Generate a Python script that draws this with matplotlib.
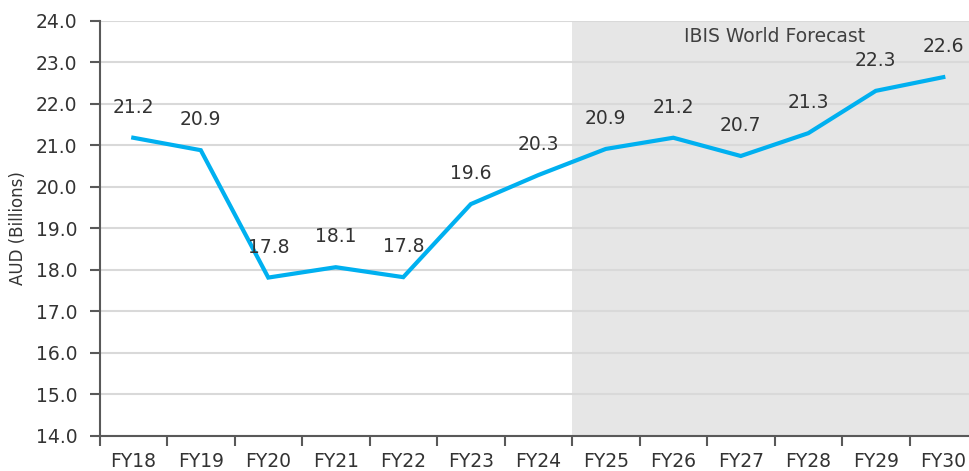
import matplotlib.pyplot as plt
import numpy as np

years = ["FY18", "FY19", "FY20", "FY21", "FY22", "FY23", "FY24",
         "FY25", "FY26", "FY27", "FY28", "FY29", "FY30"]
revenue = [21.18, 20.88, 17.81, 18.06, 17.82, 19.58, 20.28,
           20.91, 21.18, 20.74, 21.29, 22.31, 22.64]
forecast_from = "FY25"
forecast_label = "IBIS World Forecast"

plt.rcParams["font.family"] = ["DejaVu Sans"]
text_col = "#333333"

fig = plt.figure(figsize=(9.69, 4.71), dpi=100)
ax = fig.add_axes([0.1027, 0.075, 0.9056, 0.881])

x = np.arange(len(years))
start = years.index(forecast_from) - 0.5
ax.axvspan(start, len(years) - 0.5, color="#E6E6E6", zorder=0.1, lw=0)
ax.text((start + len(years) - 0.5) / 2, 23.63, forecast_label, ha="center", va="center",
        fontsize=13.5, color="#404040")

ax.plot(x, revenue, color="#00B0F0", lw=3, solid_joinstyle="miter", zorder=3)
for xi, v in zip(x, revenue):
    ax.annotate("%.1f" % v, (xi, v), xytext=(0, 22), textcoords="offset points",
                ha="center", va="center", fontsize=13.5, color=text_col)

ax.set_xlim(-0.5, len(years) - 0.5)
ax.set_ylim(14, 24)
ax.set_yticks(np.arange(14, 24.1, 1))
ax.set_yticklabels(["%.1f" % t for t in np.arange(14, 24.1, 1)])
ax.set_xticks(x)
ax.set_xticklabels(years)
ax.set_xticks(np.arange(-0.5, len(years)), minor=True)
ax.tick_params(axis="x", which="major", length=0, pad=12, labelsize=13.5, colors=text_col)
ax.tick_params(axis="x", which="minor", length=7, width=1.5, color="#595959")
ax.tick_params(axis="y", length=7, width=1.5, color="#595959", pad=9,
               labelsize=13.5, labelcolor=text_col)

ax.set_axisbelow(True)
ax.grid(axis="y", color="#D9D9D9", lw=1.5)
for s in ["top", "right"]:
    ax.spines[s].set_visible(False)
for s in ["left", "bottom"]:
    ax.spines[s].set_color("#595959")
    ax.spines[s].set_linewidth(1.5)

ax.set_ylabel("AUD (Billions)", fontsize=12, color=text_col, labelpad=6)

fig.savefig("out.png", dpi=100)
